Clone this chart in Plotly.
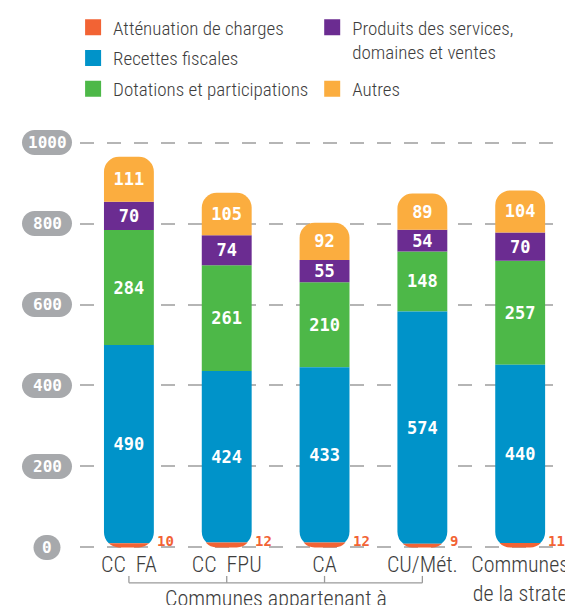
import plotly.graph_objects as go

# ---------------- data ----------------
categories = ["CC  FA", "CC  FPU", "CA", "CU/Mét.", "Communes<br>de la strate"]
attenuation = [10, 12, 12, 9, 11]
recettes = [490, 424, 433, 574, 440]
dotations = [284, 261, 210, 148, 257]
produits = [70, 74, 55, 54, 70]
autres = [111, 105, 92, 89, 104]
y_ticks = [0, 200, 400, 600, 800, 1000]
series_names = ["Atténuation de charges", "Recettes fiscales", "Dotations et participations",
                "Produits des services,<br>domaines et ventes", "Autres"]
group_label = "Communes appartenant à"
group_members = [0, 1, 2, 3]

# ---------------- styles ----------------
C_ATT, C_REC, C_DOT, C_PRO, C_AUT = "#f26334", "#0093c9", "#4db848", "#6b2c91", "#fbad3f"
PILL = "#a7a9ac"
TXT = "#3d3d3d"
LABEL_FONT = "Roboto Condensed"
NUM_FONT = "DejaVu Sans Mono"
BAR_W = 0.51
RADIUS = 15
Y_MIN, Y_MAX = -4, 1004
TOP = y_ticks[-1]          # reference level for the downward (bottom-rounded) stack

x = list(range(len(categories)))
low_top = [a + r for a, r in zip(attenuation, recettes)]

num_font = dict(family=NUM_FONT, size=17, color="white", weight=700)
clear = "rgba(0,0,0,0)"

fig = go.Figure()
# ---- upper stack (rounded top): spacer + dotations + produits + autres, on y
fig.add_trace(go.Bar(x=x, y=low_top, width=BAR_W, marker=dict(color=clear, line_width=0),
                     textposition="none", showlegend=False, hoverinfo="skip"))
for vals, col in [(dotations, C_DOT), (produits, C_PRO), (autres, C_AUT)]:
    fig.add_trace(go.Bar(x=x, y=vals, width=BAR_W, marker=dict(color=col, line_width=0),
                         text=vals, texttemplate="%{text}", textposition="inside",
                         insidetextanchor="middle", textfont=num_font, showlegend=False))

# ---- lower stack (rounded bottom): hangs downward from TOP on y2 (= y - TOP)
fig.add_trace(go.Bar(x=x, y=[-(TOP - v) for v in low_top], width=BAR_W, yaxis="y2",
                     marker=dict(color=clear, line_width=0), textposition="none",
                     showlegend=False, hoverinfo="skip"))
fig.add_trace(go.Bar(x=x, y=[-v for v in recettes], width=BAR_W, yaxis="y2",
                     marker=dict(color=C_REC, line_width=0), text=recettes, texttemplate="%{text}",
                     textposition="inside", insidetextanchor="middle", textfont=num_font,
                     showlegend=False))
fig.add_trace(go.Bar(x=x, y=[-v for v in attenuation], width=BAR_W, yaxis="y2",
                     marker=dict(color=C_ATT, line_width=0), textposition="none",
                     showlegend=False))

# ---- legend entries
for name, col, leg in zip(series_names, [C_ATT, C_REC, C_DOT, C_PRO, C_AUT],
                          ["legend", "legend", "legend", "legend2", "legend2"]):
    fig.add_trace(go.Scatter(x=[None], y=[None], mode="markers", name=name, legend=leg,
                             legendgroup=name,
                             marker=dict(symbol="square", size=16, color=col, line_width=0)))

# ---- small orange labels for "Atténuation"
for xi, v in zip(x, attenuation):
    fig.add_annotation(x=xi, y=0, xref="x", yref="y", xanchor="left", yanchor="bottom",
                       xshift=26, yshift=-4, showarrow=False, text=str(v),
                       font=dict(family=NUM_FONT, size=14, color=C_ATT, weight=700))


def pill_path(cx, w, h):
    r = h / 2
    k = 0.5523 * r
    x0 = cx - w / 2 + r
    x1 = cx + w / 2 - r
    return (f"M{x0},{-r} L{x1},{-r} C{x1 + k},{-r} {x1 + r},{-k} {x1 + r},0 "
            f"C{x1 + r},{k} {x1 + k},{r} {x1},{r} L{x0},{r} C{x0 - k},{r} {x0 - r},{k} {x0 - r},0 "
            f"C{x0 - r},{-k} {x0 - k},{-r} {x0},{-r} Z")


# ---- pill-shaped y tick labels
for t in y_ticks:
    w = 27 if t == 0 else 50
    yfrac = (t - Y_MIN) / (Y_MAX - Y_MIN)
    fig.add_shape(type="path", xref="paper", yref="paper", xsizemode="pixel", ysizemode="pixel",
                  xanchor=0, yanchor=yfrac, path=pill_path(-33, w, 25), fillcolor=PILL,
                  line_width=0, layer="above")
    fig.add_annotation(x=0, y=yfrac, xref="paper", yref="paper", xshift=-33, xanchor="center",
                       yanchor="middle", showarrow=False, text=str(t),
                       font=dict(family=NUM_FONT, size=16, color="white", weight=700))

# ---- group bracket
BR_Y, BR_TICK = -0.083, -0.066
fig.add_shape(type="line", xref="x", yref="paper", x0=group_members[0], x1=group_members[-1],
              y0=BR_Y, y1=BR_Y, line=dict(color="#9a9a9a", width=1.3))
for g in group_members:
    fig.add_shape(type="line", xref="x", yref="paper", x0=g, x1=g, y0=BR_Y, y1=BR_TICK,
                  line=dict(color="#9a9a9a", width=1.3))
fig.add_annotation(x=(group_members[0] + group_members[-1]) / 2, y=BR_Y - 0.004, xref="x", yref="paper",
                   xanchor="center", yanchor="top", showarrow=False, text=group_label,
                   font=dict(family=LABEL_FONT, size=22, color=TXT, weight=300))

legend_style = dict(font=dict(family=LABEL_FONT, size=19, color=TXT, weight=300),
                    bgcolor="rgba(0,0,0,0)", orientation="v", valign="top",
                    xanchor="left", yanchor="top", itemclick=False, itemdoubleclick=False)

fig.update_layout(
    width=573, height=605,
    margin=dict(l=72, r=8, t=133, b=64, autoexpand=False),
    plot_bgcolor="white", paper_bgcolor="white",
    barmode="relative",
    barcornerradius=RADIUS,
    showlegend=True,
    legend=dict(x=-0.014, y=1.325, tracegroupgap=3, **legend_style),
    legend2=dict(x=0.471, y=1.325, tracegroupgap=9, **legend_style),
    xaxis=dict(range=[-0.5, 4.54], tickmode="array", tickvals=x, ticktext=categories,
               showgrid=False, showline=False, zeroline=False, ticks="",
               tickfont=dict(family=LABEL_FONT, size=22, color=TXT, weight=300)),
    yaxis=dict(range=[Y_MIN, Y_MAX], tickvals=y_ticks, showticklabels=False, showgrid=True,
               gridcolor="#b5b5b5", gridwidth=1.5, griddash="14px,13px", zeroline=False,
               showline=False, ticks=""),
    yaxis2=dict(range=[Y_MIN - TOP, Y_MAX - TOP], overlaying="y", visible=False,
                showgrid=False, zeroline=False),
    uniformtext=dict(mode="show", minsize=10),
)
fig.write_html("out.html")
